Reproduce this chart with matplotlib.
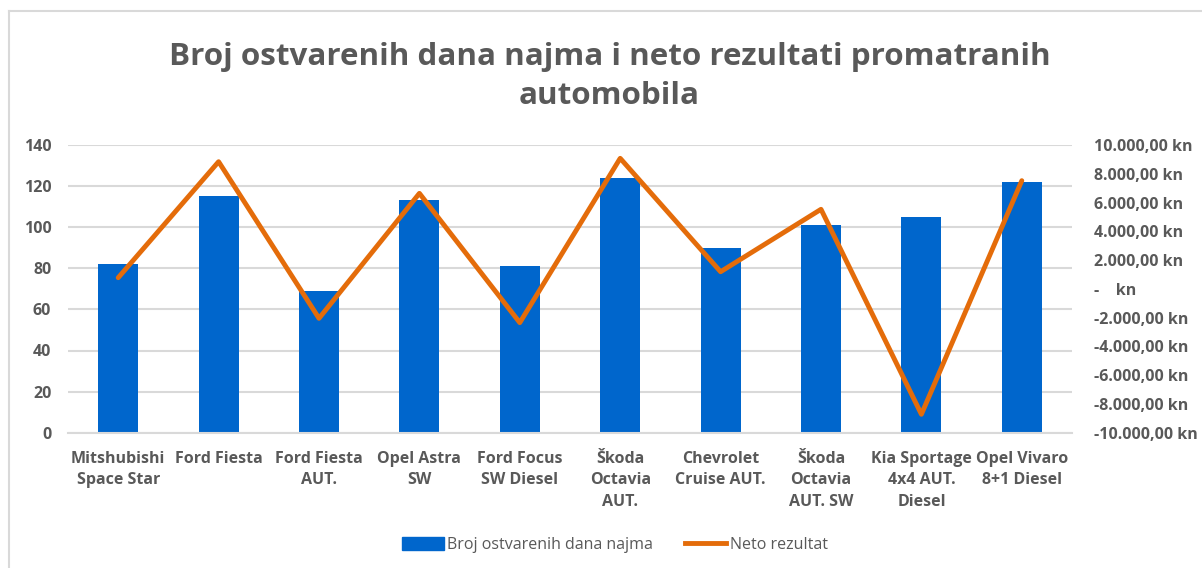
import numpy as np
import matplotlib.pyplot as plt
from matplotlib.lines import Line2D
from matplotlib.ticker import FuncFormatter

# Podaci
automobili = ['Mitshubishi\nSpace Star', 'Ford Fiesta', 'Ford Fiesta\nAUT.', 'Opel Astra\nSW',
              'Ford Focus\nSW Diesel', 'Škoda\nOctavia\nAUT.', 'Chevrolet\nCruise AUT.',
              'Škoda\nOctavia\nAUT. SW', 'Kia Sportage\n4x4 AUT.\nDiesel', 'Opel Vivaro\n8+1 Diesel']
dani_najma = [82, 115, 69, 113, 81, 124, 90, 101, 105, 122]
neto_rezultat = [775, 8840, -2050, 6640, -2350, 9075, 1190, 5530, -8720, 7520]

plt.rcParams['font.family'] = ['Open Sans', 'DejaVu Sans']
siva = '#595959'
plava = '#0066CC'
narancasta = '#E46C0A'

fig = plt.figure(figsize=(12.02, 5.68), dpi=100)
ax = fig.add_axes([68 / 1202, 1 - 432.7 / 568, (1072 - 68) / 1202, (432.7 - 145) / 568])
ax2 = ax.twinx()

x = np.arange(len(automobili))
ax.bar(x, dani_najma, width=0.4, color=plava, zorder=2)
ax2.plot(x, neto_rezultat, color=narancasta, lw=3.5, solid_capstyle='round', zorder=3)

ax.set_xlim(-0.5, len(automobili) - 0.5)
ax.set_ylim(0, 140)
ax.set_yticks(range(0, 141, 20))
ax2.set_ylim(-10000, 10000)
ax2.set_yticks(range(-10000, 10001, 2000))


def kune(v, pos):
    if v == 0:
        return '-    kn'
    s = f'{v:,.2f}'.replace(',', 'X').replace('.', ',').replace('X', '.')
    return s + ' kn'


ax2.yaxis.set_major_formatter(FuncFormatter(kune))

ax.grid(axis='y', color='#D9D9D9', lw=1.5, zorder=0)
ax.set_axisbelow(True)
for a in (ax, ax2):
    for s in a.spines.values():
        s.set_visible(False)
    a.tick_params(length=0, colors=siva, labelsize=11.5)
ax.spines['bottom'].set_visible(True)
ax.spines['bottom'].set_color('#D9D9D9')
ax.spines['bottom'].set_linewidth(1.5)

ax.set_xticks(x)
ax.set_xticklabels(automobili, fontweight='bold', color=siva, fontsize=11.5, linespacing=1.45)
ax.tick_params(axis='x', pad=13)
for t in ax.get_yticklabels():
    t.set_fontweight('bold')
ax.tick_params(axis='y', pad=12)
for t in ax2.get_yticklabels():
    t.set_fontweight('bold')
ax2.tick_params(axis='y', pad=16)

fig.text(0.507, 0.866, 'Broj ostvarenih dana najma i neto rezultati promatranih\nautomobila',
         ha='center', va='center', fontsize=22.6, fontweight='bold', color=siva, linespacing=1.4)

# legenda
handles = [plt.Rectangle((0, 0), 1, 1, color=plava), Line2D([], [], color=narancasta, lw=3.5)]
fig.legend(handles, ['Broj ostvarenih dana najma', 'Neto rezultat'], loc='center',
           bbox_to_anchor=(615 / 1202, 1 - 545 / 568), ncol=2, frameon=False, fontsize=11.5,
           labelcolor=siva, handlelength=2.6, handleheight=0.8, columnspacing=2.0, handletextpad=0.2)

# okvir
fig.add_artist(Line2D([9 / 1202, 9 / 1202], [0, 1 - 11 / 568], color='#D9D9D9', lw=1.5))
fig.add_artist(Line2D([9 / 1202, 1], [1 - 11 / 568, 1 - 11 / 568], color='#D9D9D9', lw=1.5))

fig.savefig('out.png', dpi=100)
